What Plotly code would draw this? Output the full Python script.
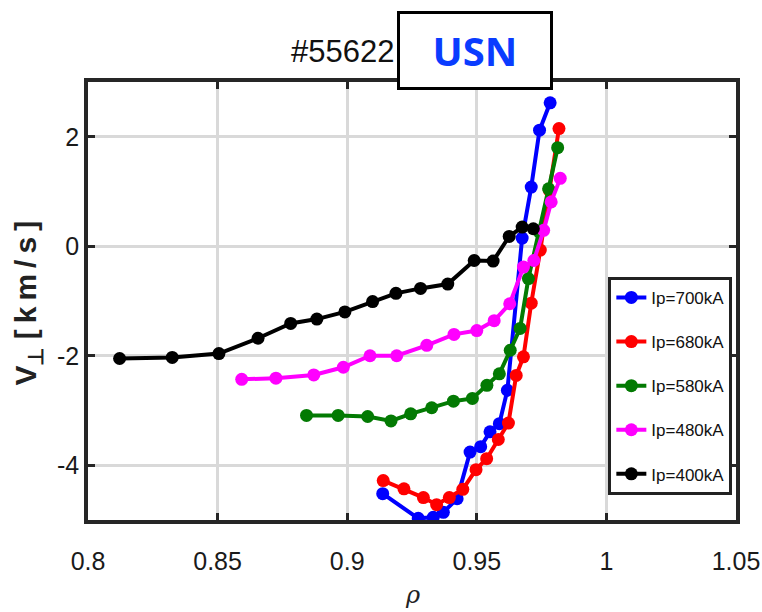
import plotly.graph_objects as go

# ---- data ----
rho_700 = [0.9137, 0.9274, 0.9332, 0.9371, 0.9424, 0.9474, 0.9515, 0.9551, 0.9587, 0.9618, 0.9675, 0.9710, 0.9742, 0.9783]
v_700 = [-4.52, -4.97, -4.95, -4.86, -4.61, -3.76, -3.66, -3.39, -3.24, -2.63, 0.15, 1.08, 2.12, 2.62]

rho_680 = [0.9139, 0.9219, 0.9294, 0.9345, 0.9394, 0.9446, 0.9497, 0.9538, 0.9583, 0.9622, 0.9652, 0.9680, 0.9710, 0.9745, 0.9780, 0.9817]
v_680 = [-4.28, -4.43, -4.59, -4.72, -4.59, -4.44, -4.08, -3.88, -3.53, -3.23, -2.36, -2.02, -1.04, -0.07, 1.02, 2.15]

rho_580 = [0.8843, 0.8965, 0.9079, 0.9169, 0.9245, 0.9326, 0.9410, 0.9483, 0.9539, 0.9587, 0.9629, 0.9667, 0.9699, 0.9741, 0.9777, 0.9812]
v_580 = [-3.09, -3.09, -3.11, -3.19, -3.06, -2.95, -2.83, -2.78, -2.54, -2.33, -1.90, -1.50, -0.59, 0.26, 1.05, 1.80]

rho_480 = [0.8593, 0.8725, 0.8871, 0.8985, 0.9088, 0.9191, 0.9307, 0.9412, 0.9500, 0.9567, 0.9627, 0.9680, 0.9720, 0.9758, 0.9787, 0.9822]
v_480 = [-2.43, -2.41, -2.35, -2.21, -2.00, -2.00, -1.81, -1.61, -1.54, -1.36, -1.05, -0.38, -0.26, 0.29, 0.81, 1.24]

rho_400 = [0.8122, 0.8325, 0.8505, 0.8656, 0.8782, 0.8883, 0.8991, 0.9098, 0.9188, 0.9283, 0.9388, 0.9490, 0.9563, 0.9625, 0.9675, 0.9718]
v_400 = [-2.05, -2.03, -1.96, -1.68, -1.41, -1.33, -1.20, -1.01, -0.86, -0.77, -0.69, -0.26, -0.27, 0.18, 0.35, 0.32]

series_names = ["Ip=700kA", "Ip=680kA", "Ip=580kA", "Ip=480kA", "Ip=400kA"]
series_colors = ["#0000ff", "#ff0000", "#037a03", "#ff00ff", "#000000"]

x_tickvals = [0.8, 0.85, 0.9, 0.95, 1.0, 1.05]
x_ticktext = ["0.8", "0.85", "0.9", "0.95", "1", "1.05"]
y_tickvals = [-4, -2, 0, 2]
y_ticktext = ["-4", "-2", "0", "2"]

title_text = "#55622"
box_text = "USN"
x_title = "ρ"
y_title = "<b>V<sub>⊥</sub> [\u2009k\u2009m\u2009/\u2009s\u2009]</b>"

FONT = "Liberation Sans, Arial, sans-serif"

xs = [rho_700, rho_680, rho_580, rho_480, rho_400]
ys = [v_700, v_680, v_580, v_480, v_400]

fig = go.Figure()
for i, (x, y) in enumerate(zip(xs, ys)):
    fig.add_trace(go.Scatter(
        x=x, y=y, mode="lines+markers", name=series_names[i],
        legendgroup=series_names[i],
        line=dict(color=series_colors[i], width=4),
        marker=dict(color=series_colors[i], size=13, symbol="circle"),
    ))

axis_common = dict(
    showline=True, linewidth=3.5, linecolor="#262626", mirror="ticks",
    ticks="inside", ticklen=7, tickwidth=2.5, tickcolor="#262626",
    showgrid=True, gridcolor="#d9d9d9", gridwidth=3, zeroline=False,
    tickfont=dict(family=FONT, size=25, color="#1a1a1a"),
    automargin=False,
)

fig.update_xaxes(range=[0.8, 1.05], tickvals=x_tickvals, ticktext=x_ticktext,
                 ticklabelstandoff=16, **axis_common)
fig.update_yaxes(range=[-5, 3], tickvals=y_tickvals, ticktext=y_ticktext,
                 ticklabelstandoff=0, **axis_common)

fig.update_layout(
    width=762, height=612,
    margin=dict(l=88, r=26, t=82, b=92),
    paper_bgcolor="white", plot_bgcolor="white",
    showlegend=True,
    legend=dict(
        x=0.803, y=0.555, xanchor="left", yanchor="top",
        bgcolor="white", bordercolor="#222222", borderwidth=3,
        font=dict(family=FONT, size=17, color="#111111"),
        tracegroupgap=19, itemwidth=30,
    ),
    annotations=[
        dict(text=title_text, xref="paper", yref="paper", x=0.393, y=1.0686,
             xanchor="center", yanchor="middle", showarrow=False,
             font=dict(family=FONT, size=31, color="#111111")),
        dict(text="<b>" + box_text + "</b>", xref="paper", yref="paper",
             x=0.597, y=1.072, xanchor="center", yanchor="middle", showarrow=False,
             width=150, height=73, bgcolor="white", bordercolor="#000000",
             borderwidth=3, borderpad=0,
             font=dict(family="Noto Sans, Open Sans, sans-serif", size=40, color="#0a3cff")),
        dict(text=y_title, xref="paper", yref="paper", x=-0.0935, y=0.495,
             xanchor="center", yanchor="middle", textangle=-90, showarrow=False,
             font=dict(family=FONT, size=30, color="#222222")),
        dict(text="<i>" + x_title + "</i>", xref="paper", yref="paper", x=0.5, y=-0.172,
             xanchor="center", yanchor="middle", showarrow=False,
             font=dict(family="DejaVu Serif, serif", size=24, color="#222222")),
    ],
)

fig.write_html("out.html", post_script="document.body.style.margin='0px';",
               config={"displayModeBar": False})
